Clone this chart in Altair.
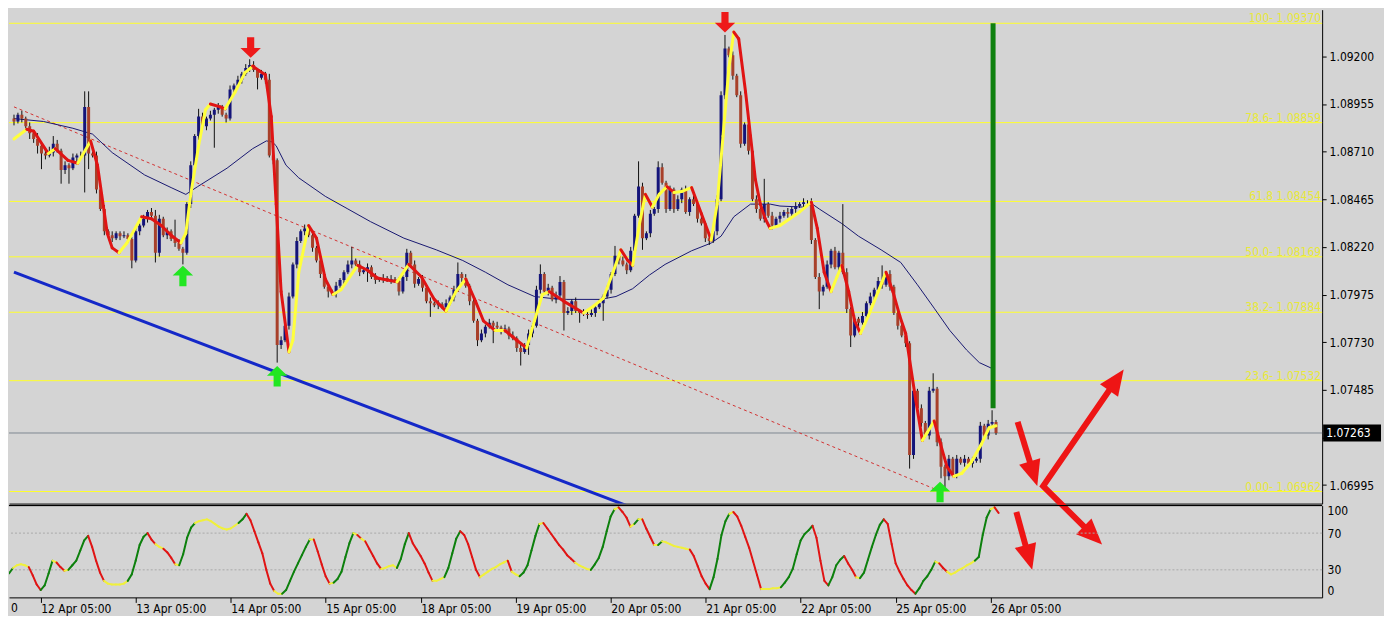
import math
import json
import altair as alt
import pandas as pd

# ---------------- data ----------------
tick_idx = [8, 32, 56, 80, 104, 128, 152, 176, 200, 224, 248]
tick_labels = ["12 Apr 05:00", "13 Apr 05:00", "14 Apr 05:00", "15 Apr 05:00", "18 Apr 05:00",
               "19 Apr 05:00", "20 Apr 05:00", "21 Apr 05:00", "22 Apr 05:00", "25 Apr 05:00",
               "26 Apr 05:00"]
left_cut_label = ["0"]
price_ticks = [1.06995, 1.07240, 1.07485, 1.07730, 1.07975, 1.08220, 1.08465, 1.08710, 1.08955, 1.09200]
hidden_tick = 1.07240  # label covered by the current-price box

first_open = 1.08880
closes = [
    1.08865, 1.08900, 1.08880, 1.08840, 1.08805, 1.08775, 1.08740, 1.08700, 1.08690, 1.08705,
    1.08750, 1.08715, 1.08615, 1.08640, 1.08625, 1.08680, 1.08690, 1.08690, 1.08940, 1.08700,
    1.08690, 1.08515, 1.08415, 1.08300, 1.08280, 1.08265, 1.08290, 1.08275, 1.08280, 1.08260,
    1.08150, 1.08300, 1.08330, 1.08365, 1.08400, 1.08380, 1.08190, 1.08365, 1.08280, 1.08300,
    1.08260, 1.08240, 1.08210, 1.08190, 1.08440, 1.08640, 1.08790, 1.08890, 1.08840, 1.08880,
    1.08900, 1.08925, 1.08940, 1.08900, 1.08880, 1.09030, 1.09050, 1.09080, 1.09110, 1.09140,
    1.09155, 1.09130, 1.09090, 1.09110, 1.09080, 1.08690, 1.08665, 1.07715, 1.07740, 1.07815,
    1.07965, 1.08130, 1.08250, 1.08300, 1.08315, 1.08280, 1.08215, 1.08150, 1.08080, 1.08015,
    1.07990, 1.07980, 1.08020, 1.08050, 1.08090, 1.08130, 1.08150, 1.08130, 1.08090, 1.08100,
    1.08115, 1.08065, 1.08050, 1.08055, 1.08060, 1.08050, 1.08055, 1.08045, 1.07990, 1.08065,
    1.08190, 1.08130, 1.08030, 1.08055, 1.08010, 1.07940, 1.07930, 1.07920, 1.07925, 1.07910,
    1.07930, 1.07960, 1.08000, 1.08080, 1.08060, 1.08020, 1.07940, 1.07840, 1.07740, 1.07775,
    1.07810, 1.07830, 1.07815, 1.07805, 1.07790, 1.07800, 1.07765, 1.07750, 1.07700, 1.07680,
    1.07715, 1.07775, 1.07815, 1.08000, 1.08080, 1.07990, 1.08010, 1.07950, 1.07970, 1.08040,
    1.07880, 1.07890, 1.07940, 1.07890, 1.07880, 1.07875, 1.07870, 1.07880, 1.07910, 1.07930,
    1.07965, 1.08000, 1.08080, 1.08175, 1.08150, 1.08130, 1.08100, 1.08200, 1.08380, 1.08530,
    1.08265, 1.08290, 1.08390, 1.08415, 1.08630, 1.08550, 1.08415, 1.08515, 1.08415, 1.08465,
    1.08515, 1.08400, 1.08465, 1.08440, 1.08365, 1.08340, 1.08265, 1.08250, 1.08300, 1.08465,
    1.09000, 1.09240, 1.09205, 1.09100, 1.09000, 1.08750, 1.08850, 1.08715, 1.08465, 1.08415,
    1.08365, 1.08440, 1.08380, 1.08330, 1.08365, 1.08380, 1.08400, 1.08390, 1.08415, 1.08430,
    1.08440, 1.08450, 1.08450, 1.08255, 1.08065, 1.07990, 1.08015, 1.08130, 1.08200, 1.08115,
    1.08190, 1.08090, 1.07900, 1.07765, 1.07850, 1.07830, 1.07865, 1.07930, 1.07965, 1.08000,
    1.08045, 1.08025, 1.08080, 1.08015, 1.07880, 1.07815, 1.07765, 1.07725, 1.07150, 1.07480,
    1.07390, 1.07315, 1.07250, 1.07480, 1.07490, 1.07215, 1.07090, 1.07040, 1.07130, 1.07050,
    1.07130, 1.07110, 1.07130, 1.07105, 1.07120, 1.07130, 1.07300, 1.07250, 1.07310, 1.07320,
    1.07263,
]
# wick extensions in pips beyond the body
up_wick = [
    2, 1, 2, 1, 2, 1, 3, 1, 2, 3,  4, 2, 1, 2, 1, 2, 1, 2, 8, 8,
    1, 2, 1, 2, 1, 2, 1, 1, 2, 1,  1, 2, 1, 2, 1, 2, 3, 2, 1, 2,
    1, 10, 2, 1, 1, 2, 1, 4, 2, 1,  2, 1, 2, 1, 1, 2, 1, 2, 1, 2,
    3, 2, 1, 2, 1, 3, 2, 1, 2, 1,  2, 1, 2, 1, 2, 1, 2, 1, 2, 1,
    2, 1, 2, 1, 1, 2, 7, 1, 2, 1,  2, 1, 2, 1, 2, 1, 2, 1, 2, 1,
    2, 1, 2, 1, 2, 1, 2, 1, 2, 1,  2, 1, 2, 6, 1, 2, 1, 2, 1, 2,
    1, 2, 1, 2, 1, 2, 1, 2, 1, 2,  1, 2, 1, 2, 5, 1, 2, 1, 2, 3,
    1, 2, 1, 2, 1, 2, 1, 2, 1, 2,  1, 2, 1, 5, 1, 2, 1, 2, 1, 13,
    2, 1, 2, 1, 3, 2, 1, 2, 1, 2,  1, 2, 1, 2, 1, 2, 1, 2, 1, 2,
    2, 7, 1, 2, 1, 2, 1, 2, 1, 2,  1, 13, 1, 2, 1, 2, 1, 2, 1, 2,
    1, 2, 1, 2, 1, 2, 1, 2, 1, 2,  1, 25, 2, 1, 2, 1, 2, 1, 2, 1,
    2, 8, 1, 2, 1, 2, 1, 2, 1, 2,  1, 2, 1, 2, 8, 1, 2, 1, 2, 1,
    2, 1, 2, 1, 2, 1, 2, 1, 2, 6,  1,
]
dn_wick = [
    2, 1, 2, 1, 3, 2, 4, 8, 2, 1,  2, 1, 7, 2, 8, 1, 2, 1, 19, 8,
    1, 2, 1, 2, 1, 2, 1, 2, 1, 2,  4, 1, 2, 1, 2, 1, 5, 2, 1, 2,
    1, 2, 1, 6, 1, 2, 1, 2, 1, 2,  1, 17, 2, 1, 2, 1, 2, 1, 2, 1,
    2, 1, 6, 1, 2, 1, 2, 9, 2, 1,  2, 1, 2, 1, 2, 1, 2, 1, 2, 1,
    3, 1, 2, 1, 2, 1, 2, 1, 2, 1,  6, 1, 2, 1, 2, 1, 2, 1, 2, 1,
    2, 1, 2, 1, 2, 1, 7, 1, 2, 1,  2, 1, 2, 1, 2, 1, 2, 1, 3, 1,
    2, 1, 9, 1, 2, 1, 2, 1, 2, 7,  1, 5, 2, 1, 2, 1, 2, 1, 2, 1,
    9, 1, 2, 1, 5, 1, 2, 1, 2, 1,  9, 1, 2, 1, 2, 1, 2, 1, 2, 1,
    6, 1, 2, 1, 2, 1, 2, 1, 2, 1,  2, 1, 2, 1, 2, 1, 2, 2, 1, 2,
    1, 2, 1, 2, 1, 2, 1, 2, 1, 2,  1, 2, 1, 2, 1, 2, 1, 2, 1, 2,
    1, 2, 1, 2, 1, 9, 2, 1, 2, 1,  2, 1, 2, 6, 1, 2, 1, 2, 1, 2,
    1, 2, 1, 2, 1, 2, 1, 2, 7, 2,  1, 2, 1, 2, 1, 2, 6, 6, 2, 1,
    2, 1, 2, 1, 2, 1, 2, 1, 2, 1,  1,
]

fast_ma = [
    (0, 1.08775), (3.25, 1.08825), (5, 1.08815), (8.75, 1.08700), (10.5, 1.08725), (13.75, 1.08665),
    (16.25, 1.08650), (19.5, 1.08765), (21.25, 1.08640), (23.75, 1.08290), (25, 1.08215), (26.75, 1.08190),
    (28.75, 1.08240), (32.5, 1.08375), (35, 1.08365), (37.5, 1.08330), (40, 1.08280), (42.5, 1.08240),
    (43.75, 1.08290), (45, 1.08490), (47, 1.08740), (48.75, 1.08925), (50, 1.08955), (52.5, 1.08940),
    (53.75, 1.08930), (56.25, 1.09015), (58.75, 1.09115), (60.75, 1.09150), (62.5, 1.09125), (64, 1.09105),
    (65.5, 1.08890), (66.75, 1.08440), (68, 1.07990), (70, 1.07680), (71, 1.07740), (72.5, 1.08090),
    (75, 1.08330), (77, 1.08265), (79.25, 1.08055), (81.25, 1.07975), (83.25, 1.08000), (87.5, 1.08125),
    (90, 1.08100), (92.5, 1.08060), (95, 1.08050), (97.5, 1.08040), (100.5, 1.08130), (103.75, 1.08065),
    (107, 1.07950), (110, 1.07890), (112.5, 1.07990), (115, 1.08055), (117.5, 1.07940), (119.5, 1.07840),
    (122.5, 1.07790), (125, 1.07790), (128, 1.07740), (130.5, 1.07700), (132.5, 1.07840), (134.5, 1.07975),
    (136.25, 1.07990), (140, 1.07940), (145, 1.07880), (147.5, 1.07915), (150, 1.07955), (152.5, 1.08090),
    (154.5, 1.08205), (156.25, 1.08150), (157.5, 1.08125), (159.25, 1.08340), (160.75, 1.08490), (162.5, 1.08425),
    (164.25, 1.08490), (166.25, 1.08530), (168, 1.08500), (170, 1.08505), (172.5, 1.08525), (175, 1.08390),
    (177.5, 1.08255), (179, 1.08440), (180.5, 1.08790), (182, 1.09140), (183.25, 1.09325), (184.5, 1.09290),
    (186.25, 1.09015), (187.5, 1.08790), (188.75, 1.08565), (190, 1.08440), (191.25, 1.08365), (192.5, 1.08315),
    (195, 1.08330), (197.5, 1.08365), (200, 1.08400), (203, 1.08450), (204.5, 1.08315), (206.25, 1.08090),
    (208, 1.07990), (209.5, 1.08065), (210.75, 1.08125), (212.5, 1.07990), (214, 1.07840), (215.5, 1.07775),
    (217.5, 1.07865), (220, 1.07990), (222, 1.08090), (223.75, 1.07990), (225.5, 1.07865), (227, 1.07775),
    (228, 1.07640), (229.5, 1.07440), (231.25, 1.07225), (232.5, 1.07265), (234.25, 1.07325), (235.75, 1.07215),
    (237.5, 1.07090), (239.25, 1.07040), (241.25, 1.07055), (243.75, 1.07115), (246.25, 1.07205), (248.25, 1.07290),
    (250, 1.07300),
]
slow_ma = [
    (0, 1.08880), (7.5, 1.08865), (15, 1.08830), (20, 1.08800), (25, 1.08705), (33.25, 1.08590),
    (40, 1.08525), (43.75, 1.08490), (46.75, 1.08530), (54.25, 1.08625), (60.75, 1.08725), (64.25, 1.08765),
    (65.75, 1.08760), (66.75, 1.08740), (69.25, 1.08640), (72.5, 1.08575), (79.25, 1.08480), (85, 1.08415),
    (90.75, 1.08350), (99.25, 1.08265), (107.5, 1.08205), (114.25, 1.08150), (120, 1.08090), (125.75, 1.08025),
    (132.5, 1.07965), (136.75, 1.07955), (140.75, 1.07950), (149.25, 1.07950), (153.25, 1.07965), (157.5, 1.08005),
    (161.75, 1.08075), (165.75, 1.08130), (172.5, 1.08200), (177.5, 1.08240), (180, 1.08275), (183.25, 1.08375),
    (187.5, 1.08440), (192.5, 1.08440), (195, 1.08430), (200.75, 1.08425), (203.25, 1.08440), (205, 1.08415),
    (210.75, 1.08340), (215, 1.08275), (220.75, 1.08205), (225.75, 1.08140), (230, 1.08025), (234.25, 1.07905),
    (238.25, 1.07790), (242.5, 1.07690), (245.75, 1.07625), (249.5, 1.07590),
]
osc = [
    26, 32, 35, 36, 35, 33, 24, 14, 8, 13,   26, 40, 38, 33, 29, 30, 35, 40, 51, 62,
    67, 55, 40, 27, 18, 15, 14, 14, 14, 15,  18, 25, 40, 57, 66, 70, 63, 58, 55, 53,
    49, 43, 36, 35, 47, 65, 76, 81, 83, 84,  85, 83, 80, 77, 75, 74, 75, 78, 81, 85,
    91, 84, 72, 60, 48, 30, 15, 7, 4, 4,     8, 18, 28, 37, 46, 55, 63, 63, 50, 36,
    23, 15, 16, 20, 28, 44, 59, 70, 68, 64,  61, 53, 45, 37, 31, 32, 34, 35, 32, 42,
    58, 70, 59, 52, 45, 37, 27, 18, 18, 20,  22, 32, 48, 64, 72, 68, 58, 44, 30, 22,
    25, 28, 31, 33, 36, 38, 40, 28, 25, 23,  27, 35, 51, 67, 80, 81, 75, 69, 63, 57,
    52, 46, 42, 38, 35, 33, 31, 30, 36, 43,  55, 72, 88, 96, 98, 93, 87, 77, 80, 85,
    85, 75, 66, 57, 57, 61, 60, 58, 56, 55,  54, 53, 52, 45, 34, 23, 15, 9, 22, 42,
    68, 83, 91, 93, 88, 78, 66, 54, 39, 24,  9, 9, 9, 10, 10, 11, 16, 22, 31, 47,
    62, 69, 73, 78, 65, 40, 18, 13, 22, 35,  41, 45, 37, 30, 22, 21, 27, 41, 55, 68,
    79, 85, 80, 58, 37, 28, 20, 13, 8, 4,    10, 18, 23, 30, 39, 37, 32, 28, 25, 27,
    30, 32, 35, 37, 40, 44, 68, 87, 96, 98,  92,
]
osc_levels = [30, 70]
osc_ticks = [0, 30, 70, 100]

fib_labels = ["100- 1.09370", "78.6- 1.08859", "61.8 1.08454", "50.0- 1.08169",
              "38.2- 1.07884", "23.6- 1.07532", "0.00- 1.06962"]
fib_price = [1.09370, 1.08859, 1.08454, 1.08169, 1.07884, 1.07532, 1.06962]
current_price = [1.07263]
current_label = ["1.07263"]

trend_i = [0, 235]
trend_p = [1.08940, 1.06970]
blue_i = [0, 165]
blue_p = [1.08090, 1.06820]
green_i = [249.25]
green_top = [1.09370]
green_bottom = [1.07390]

up_arrow_i = [43, 67, 235.75]
up_arrow_p = [1.08070, 1.07555, 1.06960]
down_arrow_i = [60.25, 181]
down_arrow_p = [1.09245, 1.09375]

# hand drawn red arrows (main panel: index, price ; oscillator: index, value)
arrow1_i = [255.5, 260.5]
arrow1_p = [1.07320, 1.06990]
varrow_i = [282.5, 262.0, 277.0]
varrow_p = [1.07590, 1.06990, 1.06690]
osc_arrow_i = [254.5, 258.5]
osc_arrow_v = [93, 30]

# ---------------- layout / style ----------------
W = 1316
H1 = 495
H2 = 92
XMAX = 331.75
PMIN, PMAX = 1.06900, 1.09440
BG = "#d4d4d4"
FONT = "DejaVu Sans Condensed, DejaVu Sans, sans-serif"
BULL = "#14147a"
BEAR = "#a8402a"
MA_UP = "#ffff3c"
MA_DN = "#e01414"
OSC_UP = "#0d800d"
OSC_DN = "#e01414"
OSC_FLAT = "#f0f03c"
FIB = "#ffff2a"
FIB_TXT = "#e8e83a"
ARROW_RED = "#ee1515"

kx = W / XMAX
ky_main = H1 / (PMAX - PMIN)
ky_osc = H2 / 100.0

xscale = alt.Scale(domain=[0, XMAX], nice=False, zero=False)
yscale = alt.Scale(domain=[PMIN, PMAX], nice=False, zero=False)
oscale = alt.Scale(domain=[0, 100], nice=False, zero=False)

XAXIS_MAIN = alt.Axis(labels=False, ticks=False, domain=True, domainColor="black", grid=False, title=None)
label_expr = json.dumps(tick_labels) + "[round((datum.value - 8) / 24)]"
XAXIS_OSC = alt.Axis(values=tick_idx, labelExpr=label_expr, tickSize=5, tickColor="black",
                     domainColor="black", labelColor="black", labelAlign="left", labelPadding=1,
                     labelFontSize=12, grid=False, title=None, labelOverlap=False, labelFlush=False)
y_label_expr = f"abs(datum.value - {hidden_tick}) < 0.000001 ? '' : format(datum.value, '.5f')"
YAXIS_MAIN = alt.Axis(orient="right", values=price_ticks, labelExpr=y_label_expr, tickSize=4,
                      tickColor="black", domainColor="black", labelColor="black", labelFontSize=12,
                      labelPadding=3, grid=False, title=None)
YAXIS_OSC = alt.Axis(orient="right", values=osc_ticks, format="d", ticks=False, labelPadding=5,
                     labelFlush=True, domainColor="black", labelColor="black", labelFontSize=12,
                     grid=False, title=None)


def xm(f):
    return alt.X(f, scale=xscale, axis=XAXIS_MAIN)


def ym(f):
    return alt.Y(f, scale=yscale, axis=YAXIS_MAIN)


def xo(f):
    return alt.X(f, scale=xscale, axis=XAXIS_OSC)


def yo(f):
    return alt.Y(f, scale=oscale, axis=YAXIS_OSC)


# ---------------- frames ----------------
rows = []
prev = first_open
for i, c in enumerate(closes):
    o = prev
    hi = max(o, c) + up_wick[i] * 0.0001
    lo = min(o, c) - dn_wick[i] * 0.0001
    rows.append({"i": i, "open": o, "close": c, "high": hi, "low": lo,
                 "col": BULL if c >= o else BEAR})
    prev = c
candles = pd.DataFrame(rows)

fast_seg = pd.DataFrame([
    {"i": a[0], "i2": b[0], "p": a[1], "p2": b[1], "col": MA_UP if b[1] >= a[1] else MA_DN}
    for a, b in zip(fast_ma[:-1], fast_ma[1:])
])
slow_df = pd.DataFrame(slow_ma, columns=["i", "p"])

osc_rows = []
for k in range(len(osc) - 1):
    d = osc[k + 1] - osc[k]
    col = OSC_UP if d > 3 else (OSC_DN if d < -3 else OSC_FLAT)
    osc_rows.append({"i": k, "i2": k + 1, "v": osc[k], "v2": osc[k + 1], "col": col})
osc_seg = pd.DataFrame(osc_rows)

fib_df = pd.DataFrame({"price": fib_price, "label": fib_labels})
cur_df = pd.DataFrame({"price": current_price, "label": current_label})
trend_df = pd.DataFrame({"i": trend_i, "p": trend_p})
blue_df = pd.DataFrame({"i": blue_i, "p": blue_p})
green_df = pd.DataFrame({"i": green_i, "top": green_top, "bottom": green_bottom})
up_df = pd.DataFrame({"i": up_arrow_i, "p": up_arrow_p})
down_df = pd.DataFrame({"i": down_arrow_i, "p": down_arrow_p})


def arrow_geometry(name, xs, vs, heads, ky, head_px=13):
    """shaft polyline (shortened under heads) + arrowhead points with rotation"""
    xs = list(xs)
    vs = list(vs)
    head_rows = []
    for end in heads:
        if end == "end":
            a, b = -2, -1
        else:
            a, b = 1, 0
        dx = (xs[b] - xs[a]) * kx
        dy = -(vs[b] - vs[a]) * ky
        L = math.hypot(dx, dy)
        ux, uy = dx / L, dy / L
        ang = math.degrees(math.atan2(ux, -uy)) % 360
        head_rows.append({"i": xs[b], "v": vs[b], "ang": ang})
        xs[b] = xs[b] - ux * head_px / kx
        vs[b] = vs[b] + uy * head_px / ky
    shaft = pd.DataFrame({"i": xs, "v": vs, "ord": list(range(len(xs))), "name": name})
    return shaft, pd.DataFrame(head_rows)


s1, h1 = arrow_geometry("a1", arrow1_i, arrow1_p, ["end"], ky_main)
s2, h2 = arrow_geometry("v", varrow_i, varrow_p, ["start", "end"], ky_main)
shafts_main = pd.concat([s1, s2], ignore_index=True)
heads_main = pd.concat([h1, h2], ignore_index=True)
s3, h3 = arrow_geometry("o1", osc_arrow_i, osc_arrow_v, ["end"], ky_osc)

HEAD = "M0,0 L0.9,2.1 L-0.9,2.1 Z"
UP_SHAPE = "M0,-1 L1,-0.05 L0.35,-0.05 L0.35,1 L-0.35,1 L-0.35,-0.05 L-1,-0.05 Z"
BOX = "M-1,-0.29 L1,-0.29 L1,0.29 L-1,0.29 Z"

# ---------------- main panel ----------------
fib_lines = alt.Chart(fib_df).mark_rule(color=FIB, strokeWidth=1).encode(y=ym("price:Q"))
fib_text = alt.Chart(fib_df).mark_text(align="right", baseline="alphabetic", dy=-1, color=FIB_TXT,
                                       fontSize=12).encode(
    x=alt.value(W - 1), y=ym("price:Q"), text="label:N")
cur_line = alt.Chart(cur_df).mark_rule(color="#7d8792", strokeWidth=1).encode(y=ym("price:Q"))
blue_line = alt.Chart(blue_df).mark_line(color="#1428c8", strokeWidth=3, clip=True).encode(
    x=xm("i:Q"), y=ym("p:Q"))
trend_line = alt.Chart(trend_df).mark_line(color="#d23232", strokeWidth=1, strokeDash=[3, 3],
                                           clip=True).encode(x=xm("i:Q"), y=ym("p:Q"))
slow_line = alt.Chart(slow_df).mark_line(color="#181870", strokeWidth=1, clip=True).encode(
    x=xm("i:Q"), y=ym("p:Q"))
wicks = alt.Chart(candles).mark_rule(color="#101010", strokeWidth=1, clip=True).encode(
    x=xm("i:Q"), y=ym("low:Q"), y2="high:Q")
bodies = alt.Chart(candles).mark_bar(size=3, orient="vertical", clip=True).encode(
    x=xm("i:Q"), y=ym("open:Q"), y2="close:Q", color=alt.Color("col:N", scale=None))
fast_line = alt.Chart(fast_seg).mark_rule(strokeWidth=3, strokeCap="round", clip=True).encode(
    x=xm("i:Q"), x2="i2:Q", y=ym("p:Q"), y2="p2:Q", color=alt.Color("col:N", scale=None))
green_bar = alt.Chart(green_df).mark_rule(color="#0f800f", strokeWidth=5).encode(
    x=xm("i:Q"), y=ym("top:Q"), y2="bottom:Q")
up_marks = alt.Chart(up_df).mark_point(shape=UP_SHAPE, filled=True, size=420, color="#22e622",
                                       opacity=1).encode(x=xm("i:Q"), y=ym("p:Q"))
down_marks = alt.Chart(down_df).mark_point(shape=UP_SHAPE, filled=True, size=420, color="#ee1a1a",
                                           opacity=1, angle=180).encode(x=xm("i:Q"), y=ym("p:Q"))
big_shafts = alt.Chart(shafts_main).mark_line(color=ARROW_RED, strokeWidth=6, strokeJoin="miter",
                                              strokeCap="butt", clip=False).encode(
    x=xm("i:Q"), y=ym("v:Q"), detail="name:N", order="ord:Q")
big_heads = alt.Chart(heads_main).mark_point(shape=HEAD, filled=True, size=600, color=ARROW_RED,
                                             opacity=1, clip=False).encode(
    x=xm("i:Q"), y=ym("v:Q"), angle=alt.Angle("ang:Q", scale=None))
price_box = alt.Chart(cur_df).mark_point(shape=BOX, filled=True, size=3364, color="black", opacity=1,
                                         clip=False).encode(x=alt.value(W + 30), y=ym("price:Q"))
price_txt = alt.Chart(cur_df).mark_text(align="left", baseline="middle", color="white", fontSize=12,
                                        clip=False).encode(
    x=alt.value(W + 4), y=ym("price:Q"), text="label:N")

main = alt.layer(
    fib_lines, cur_line, blue_line, trend_line, slow_line, wicks, bodies, fast_line, green_bar,
    up_marks, down_marks, fib_text, big_shafts, big_heads, price_box, price_txt,
).properties(width=W, height=H1)

# ---------------- oscillator panel ----------------
lvl_df = pd.DataFrame({"v": osc_levels})
levels = alt.Chart(lvl_df).mark_rule(color="#a9a9a9", strokeDash=[2, 2], strokeWidth=1).encode(
    y=yo("v:Q"))
osc_line = alt.Chart(osc_seg).mark_rule(strokeWidth=2, strokeCap="round", clip=True).encode(
    x=xo("i:Q"), x2="i2:Q", y=yo("v:Q"), y2="v2:Q", color=alt.Color("col:N", scale=None))
top_border = alt.Chart(lvl_df).mark_rule(color="black", strokeWidth=1).encode(
    y=alt.value(0), x=alt.value(0), x2=alt.value(W))
osc_shaft = alt.Chart(s3).mark_line(color=ARROW_RED, strokeWidth=6, strokeCap="butt", clip=False).encode(
    x=xo("i:Q"), y=yo("v:Q"), order="ord:Q")
osc_head = alt.Chart(h3).mark_point(shape=HEAD, filled=True, size=600, color=ARROW_RED, opacity=1,
                                    clip=False).encode(
    x=xo("i:Q"), y=yo("v:Q"), angle=alt.Angle("ang:Q", scale=None))
cut_df = pd.DataFrame({"t": left_cut_label})
cut_text = alt.Chart(cut_df).mark_text(align="left", baseline="top", color="black", fontSize=12).encode(
    x=alt.value(2), y=alt.value(H2 + 6), text="t:N")

osc_panel = alt.layer(levels, osc_line, top_border, osc_shaft, osc_head, cut_text).properties(
    width=W, height=H2)

chart = alt.vconcat(main, osc_panel, spacing=2, bounds="flush").properties(
    padding={"left": 0, "top": 0, "right": 2, "bottom": 0}
).configure(background=BG, font=FONT).configure_view(stroke="transparent")

chart.save("out.html", embed_options={"renderer": "svg", "actions": False})
